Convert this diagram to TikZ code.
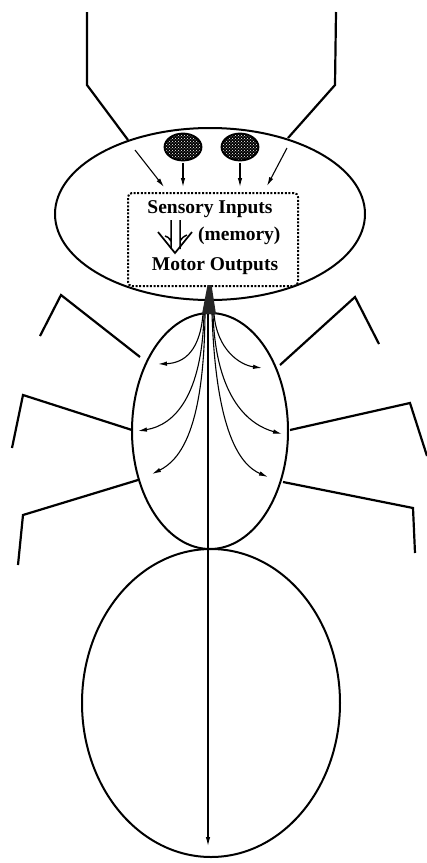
\documentclass[tikz,border=0pt]{standalone}
\usepackage{fontspec}
\setmainfont{Liberation Serif}
\usetikzlibrary{positioning,arrows.meta,shapes.geometric,patterns}

\begin{document}
\begin{tikzpicture}[x=1pt, y=-1pt, every node/.style={font=\fontsize{19.5}{22}\selectfont\bfseries},
  body/.style={draw, ellipse, line width=2pt, inner sep=0pt},
  eye/.style={draw, ellipse, line width=1.8pt, inner sep=0pt,
    minimum width=37pt, minimum height=27pt,
    preaction={fill=black}, pattern=crosshatch dots, pattern color=white},
  brainbox/.style={draw, rounded corners=4pt, line width=2pt,
    dash pattern=on 2pt off 1.6pt, inner sep=0pt,
    minimum width=170pt, minimum height=93pt},
  leg/.style={line width=2.2pt},
  sig/.style={line width=1.1pt, -{Latex[length=9pt,width=4.5pt]}}]
  \useasboundingbox (0,0) rectangle (427,863);

  %----- 身體三節 -----
  \node[body, minimum width=310pt, minimum height=172pt] (head)    at (210,214) {};
  \node[body, minimum width=156pt, minimum height=236pt] (thorax)  at (210,431) {};
  \node[body, minimum width=258pt, minimum height=308pt] (abdomen) at (211,703) {};

  %----- 觸角 -----
  \draw[leg] (87,12) -- (87,85) -- (128,140);
  \draw[leg] (336,12) -- (335,85) -- (288,138);

  %----- 六隻腳:(身體, 膝, 腳尖) -----
  \draw[leg] (140,357) -- (61,295) -- (40,336);
  \draw[leg] (132,430) -- (23,395) -- (12,448);
  \draw[leg] (138,480) -- (23,515) -- (18,565);
  \draw[leg] (280,365) -- (355,297) -- (379,344);
  \draw[leg] (290,430) -- (410,403) -- (427,456);
  \draw[leg] (283,482) -- (413,508) -- (415,553);

  %----- 眼睛 -----
  \node[eye] (leye) at (183,147) {};
  \node[eye] (reye) at (240,147) {};

  %----- 腦 -----
  \node[brainbox] (brain) at (213,239.5) {};
  \node[anchor=base] (sense) at (210,213) {Sensory Inputs};
  \node[anchor=base] (motor) at (215,270) {Motor Outputs};
  \node[anchor=base west, inner sep=0pt] (mem) at (198,240) {(memory)};
  % 中間的記憶箭頭
  \draw[line width=1.7pt] (158,232) -- (175,253) -- (192,232);
  \draw[line width=1.5pt] (171,220) -- (171,249) (171,241) .. controls (168,237) .. (165,236);
  \draw[line width=1.5pt] (180,220) -- (180,249) (180,241) .. controls (183,237) .. (187,235);

  %----- 感覺輸入 -----
  \coordinate (lin)  at (135,150);  \coordinate (lout) at (164,187);
  \coordinate (rin)  at (287,148);  \coordinate (rout) at (267,186);
  \draw[sig] (lin) -- (lout);
  \draw[sig] (rin) -- (rout);
  \draw[sig, shorten <=2pt, shorten >=5pt] (leye.south) -- (leye.south |- brain.north);
  \draw[sig, shorten <=2pt, shorten >=5pt] (reye.south) -- (reye.south |- brain.north);

  %----- 頸部 -----
  \coordinate (neck) at (209,314);
  \fill[black!85] (207.5,285) -- (211.5,285) -- (216,314) -- (202,314) -- cycle;

  %----- 運動輸出 -----
  \coordinate (m1) at (158,364);  \coordinate (m2) at (138,431);  \coordinate (m3) at (152,474);
  \coordinate (m4) at (262,368);  \coordinate (m5) at (282,434);  \coordinate (m6) at (268,477);
  \coordinate (tail) at (208,846);
  \draw[sig] ([xshift=-6pt]neck) .. controls (200,350) and (185,363) .. (m1);
  \draw[sig] ([xshift=-5pt]neck) .. controls (202,395) and (175,425) .. (m2);
  \draw[sig] ([xshift=-4pt]neck) .. controls (204,430) and (180,460) .. (m3);
  \draw[sig] ([xshift=5pt]neck)  .. controls (217,350) and (240,365) .. (m4);
  \draw[sig] ([xshift=4pt]neck)  .. controls (216,400) and (250,425) .. (m5);
  \draw[sig] ([xshift=3pt]neck)  .. controls (216,432) and (240,465) .. (m6);
  \draw[sig] ([xshift=-1pt]neck) -- (tail);
\end{tikzpicture}
\end{document}
